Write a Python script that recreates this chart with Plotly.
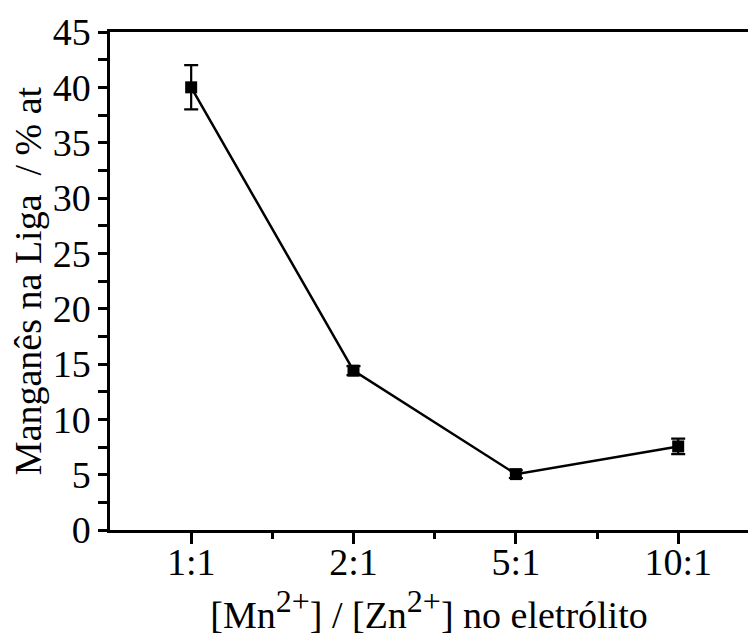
import plotly.graph_objects as go

# data
ratios = ["1:1", "2:1", "5:1", "10:1"]
mn_at = [40.0, 14.4, 5.05, 7.55]
mn_err = [2.0, 0.4, 0.35, 0.7]

y_ticks = [0, 5, 10, 15, 20, 25, 30, 35, 40, 45]

serif = "Liberation Serif, Times New Roman, serif"
fsize = 38

fig = go.Figure()
fig.add_trace(go.Scatter(
    x=list(range(len(ratios))), y=mn_at,
    mode="lines+markers",
    line=dict(color="black", width=2.5),
    marker=dict(symbol="square", size=12, color="black"),
    error_y=dict(type="data", array=mn_err, visible=True,
                 color="black", thickness=2.2, width=7),
    showlegend=False, hoverinfo="none",
))

fig.update_layout(
    width=748, height=637,
    margin=dict(l=110, r=0, t=32, b=107),
    plot_bgcolor="white", paper_bgcolor="white",
    font=dict(family=serif, size=fsize, color="black"),
)

sup = '<sup><span style="font-size:32px">2+</span></sup>'
fig.update_xaxes(
    range=[-0.5, 3.43],
    tickmode="array", tickvals=list(range(len(ratios))), ticktext=ratios,
    ticks="outside", ticklen=11, tickwidth=2.5, tickcolor="black",
    ticklabelstandoff=-14,
    minor=dict(tickmode="array", tickvals=[0.5, 1.5, 2.5], ticks="outside",
               ticklen=6, tickwidth=2.5, tickcolor="black"),
    showline=True, linewidth=2.5, linecolor="black", mirror=True,
    showgrid=False, zeroline=False, automargin=False,
    tickfont=dict(family=serif, size=fsize, color="black"),
    title=dict(text="[Mn" + sup + "] / [Zn" + sup + "] no eletrólito",
               font=dict(family=serif, size=fsize, color="black"), standoff=14),
)

fig.update_yaxes(
    range=[0, 45],
    tickmode="array", tickvals=y_ticks,
    ticks="outside", ticklen=9, tickwidth=2.5, tickcolor="black",
    minor=dict(dtick=2.5, tick0=0, ticks="outside", ticklen=9,
               tickwidth=2.5, tickcolor="black"),
    showline=True, linewidth=2.5, linecolor="black", mirror=False,
    showgrid=False, zeroline=False, automargin=False,
    tickfont=dict(family=serif, size=fsize, color="black"),
    title=dict(text="Manganês na Liga  / % at",
               font=dict(family=serif, size=fsize, color="black"), standoff=0),
)

# page body has an 8px default margin, drop it so the figure fills the window
fig.write_html("out.html", config={"displayModeBar": False},
               post_script="document.body.style.margin='0';")
